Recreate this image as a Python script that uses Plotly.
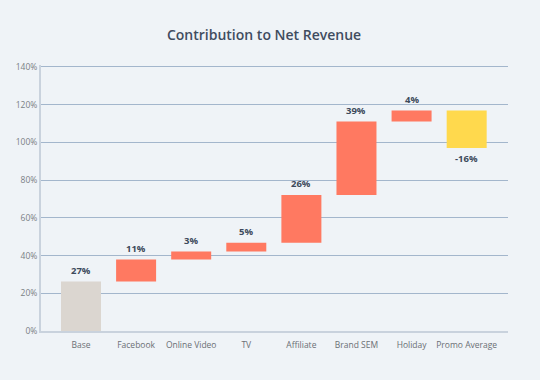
import plotly.graph_objects as go

categories = ["Base", "Facebook", "Online Video", "TV", "Affiliate", "Brand SEM", "Holiday", "Promo Average"]
changes = [26.3, 11.6, 4.2, 4.7, 25.3, 39.0, 5.8, -19.9]
labels = ["27%", "11%", "3%", "5%", "26%", "39%", "4%", "-16%"]
kinds = ["base", "up", "up", "up", "up", "up", "up", "down"]
y_ticks = [0, 20, 40, 60, 80, 100, 120, 140]
y_tick_labels = ["0%", "20%", "40%", "60%", "80%", "100%", "120%", "140%"]

colors_map = {"base": "#dbd6d0", "up": "#ff7961", "down": "#ffd94d"}

bases = []
running = 0.0
for v in changes:
    bases.append(running)
    running += v

fig = go.Figure()
fig.add_trace(go.Bar(
    x=categories,
    y=changes,
    base=bases,
    marker=dict(color=[colors_map[k] for k in kinds], line=dict(width=0)),
    width=0.726,
    hoverinfo="skip",
))

for cat, b, v, lab in zip(categories, bases, changes, labels):
    end = b + v
    fig.add_annotation(
        x=cat, y=end, text=lab, showarrow=False,
        yshift=11 if v >= 0 else -10,
        font=dict(family="Open Sans", size=9.5, color="#3d4a5c", weight="bold"),
    )

fig.update_layout(
    width=540, height=380,
    paper_bgcolor="#eff3f7",
    plot_bgcolor="#eff3f7",
    margin=dict(l=41, r=32, t=65, b=49),
    title=dict(text="Contribution to Net Revenue", x=0.489, xanchor="center", y=0.908, yanchor="middle",
               font=dict(family="Open Sans", size=14, color="#3f4c5f", weight=600)),
    showlegend=False,
    font=dict(family="Open Sans"),
)
fig.update_xaxes(
    range=[-0.726, 7.75],
    showgrid=False,
    showline=True, linecolor="#c9d2dd", linewidth=2,
    ticks="", ticklabelstandoff=5, tickfont=dict(size=8.5, color="#6b6f75"),
)
fig.update_yaxes(
    range=[0, 141], tickmode="array", tickvals=y_ticks, ticktext=y_tick_labels,
    showgrid=True, gridcolor="#a3b6cc", gridwidth=1,
    showline=True, linecolor="#c9d2dd", linewidth=2,
    zeroline=False,
    ticks="", tickfont=dict(size=8.5, color="#7a7f85"),
)

fig.write_html("out.html", post_script="document.body.style.margin='0';",
               config={"displayModeBar": False})
